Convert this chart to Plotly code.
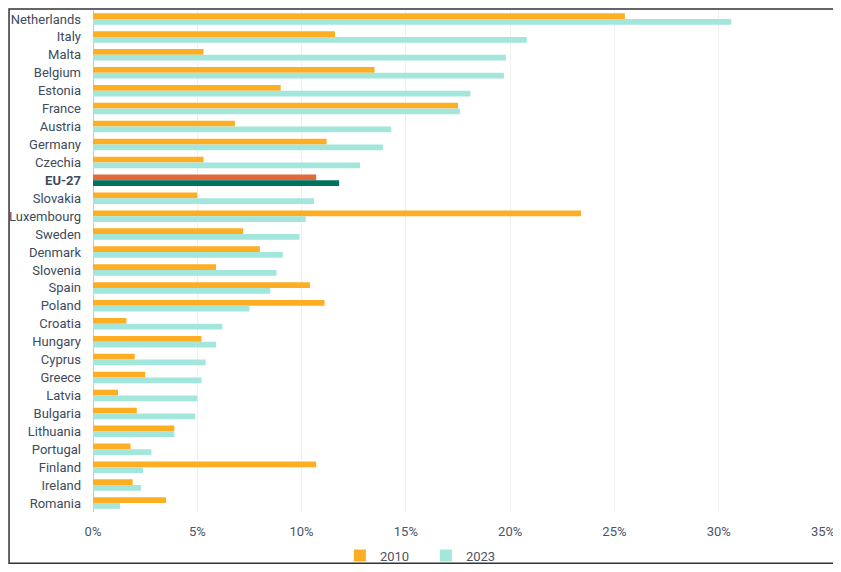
import plotly.graph_objects as go

countries = ["Netherlands", "Italy", "Malta", "Belgium", "Estonia", "France", "Austria",
             "Germany", "Czechia", "EU-27", "Slovakia", "Luxembourg", "Sweden", "Denmark",
             "Slovenia", "Spain", "Poland", "Croatia", "Hungary", "Cyprus", "Greece",
             "Latvia", "Bulgaria", "Lithuania", "Portugal", "Finland", "Ireland", "Romania"]
share_2010 = [25.5, 11.6, 5.3, 13.5, 9.0, 17.5, 6.8, 11.2, 5.3, 10.7, 5.0, 23.4, 7.2, 8.0,
              5.9, 10.4, 11.1, 1.6, 5.2, 2.0, 2.5, 1.2, 2.1, 3.9, 1.8, 10.7, 1.9, 3.5]
share_2023 = [30.6, 20.8, 19.8, 19.7, 18.1, 17.6, 14.3, 13.9, 12.8, 11.8, 10.6, 10.2, 9.9, 9.1,
              8.8, 8.5, 7.5, 6.2, 5.9, 5.4, 5.2, 5.0, 4.9, 3.9, 2.8, 2.4, 2.3, 1.3]
x_ticks = [0, 5, 10, 15, 20, 25, 30, 35]

# EU average gets darker colours
col_2010 = ["#E2693B" if c == "EU-27" else "#FDAE22" for c in countries]
col_2023 = ["#00735F" if c == "EU-27" else "#A3E6DC" for c in countries]
labels = ["<b>EU-27</b>" if c == "EU-27" else c for c in countries]

fig = go.Figure()
fig.add_trace(go.Bar(y=countries, x=share_2010, name="2010", orientation="h",
                     marker=dict(color=col_2010, line=dict(width=0))))
fig.add_trace(go.Bar(y=countries, x=share_2023, name="2023", orientation="h",
                     marker=dict(color=col_2023, line=dict(width=0))))

# page body has an 8px margin, so the figure is a bit smaller than the window
fig.update_layout(
    width=833, height=564,
    margin=dict(l=85, r=18, t=2, b=60, autoexpand=False),
    paper_bgcolor="white", plot_bgcolor="white",
    font=dict(family="Roboto", size=13, color="#4a5565"),
    barmode="group", bargap=0.36, bargroupgap=0,
    showlegend=True,
    legend=dict(orientation="h", x=0.456, xanchor="center", y=-0.087, yanchor="middle",
                font=dict(size=13, color="#4a5565"), bgcolor="rgba(0,0,0,0)",
                entrywidth=41, tracegroupgap=0),
    xaxis=dict(range=[0, 35], tickvals=x_ticks, ticktext=[f"{t}%" for t in x_ticks],
               showgrid=True, gridcolor="#efefef", gridwidth=1,
               zeroline=True, zerolinecolor="#c8c8c8", zerolinewidth=1,
               ticks="", tickfont=dict(size=13, color="#4a5565"),
               ticklabelstandoff=10, automargin=False),
    yaxis=dict(autorange="reversed", tickvals=countries, ticktext=labels,
               ticks="", tickfont=dict(size=13, color="#3d4b5c"), showgrid=False,
               ticklabelstandoff=11, automargin=False),
    shapes=[dict(type="rect", xref="paper", yref="paper",
                 x0=-0.115, x1=1.016, y0=-0.102, y1=1.002,
                 line=dict(color="#333333", width=1.5), fillcolor="rgba(0,0,0,0)")],
)

fig.write_html("out.html")
